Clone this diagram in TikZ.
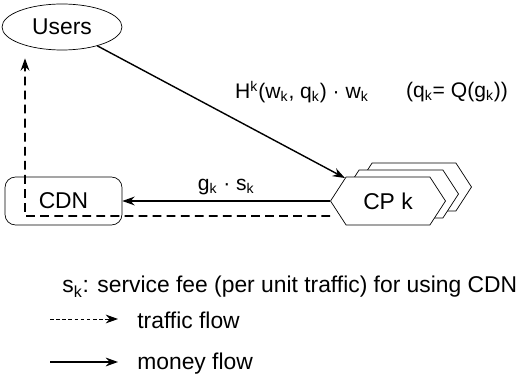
\documentclass[tikz,border=0pt]{standalone}
\usepackage{fontspec}
\setmainfont{Liberation Sans}
\usetikzlibrary{shapes.geometric, shapes.symbols, arrows.meta, positioning}

\tikzset{
  big/.style={font=\fontsize{13}{15}\selectfont},
  lbl/.style={font=\fontsize{12}{14}\selectfont},
  cpbox/.style={draw, fill=white, shape=signal, signal to=west and east,
    signal pointer angle=114, minimum width=2.3cm, minimum height=0.96cm,
    inner sep=0pt, big},
  money/.style={-{Stealth[length=7pt,width=5pt]}, line width=0.8pt},
  traffic/.style={-{Stealth[length=7pt,width=5pt]}, line width=1pt, dash pattern=on 5pt off 3pt},
  thinflow/.style={-{Stealth[length=7pt,width=5pt]}, line width=0.5pt, dash pattern=on 2pt off 1.5pt}
}

\begin{document}
\begin{tikzpicture}[x=0.02cm, y=-0.02cm]
                \useasboundingbox (0,0) rectangle (524,378);
                % actors
                \node[draw, ellipse, minimum width=2.4cm, minimum height=0.92cm, inner sep=0pt, big] (users) at (62,27) {Users};
                \node[draw, rectangle, rounded corners=6pt, minimum width=2.34cm, minimum height=0.96cm, big] (cdn) at (63.5,201) {CDN};
                
                % stack of content providers
                \node[cpbox] (cpc) at (414,187) {};
                \node[cpbox] (cpb) at (401,194) {};
                \node[cpbox] (cpk) at (388,201) {CP k};
                
                \draw[money] (users) -- (cpk);
                \draw[money] (cpk.west) -- node[above, lbl] {g\textsubscript{k} · s\textsubscript{k}} (cdn.east);
                
                \coordinate (turn) at (25,216);
                \draw[traffic] ([yshift=-0.3cm]cpk.west) -- (turn) -- ([yshift=-0.16cm]turn |- users.south);
                
                \node[lbl] (pay) at (302,92) {H\textsuperscript{k}(w\textsubscript{k}, q\textsubscript{k}) · w\textsubscript{k}};
                \node[lbl] (qdef) at (457,92) {(q\textsubscript{k}= Q(g\textsubscript{k}))};
                
                % legend
                \node[big, anchor=west, inner sep=0pt] (fee) at (62,287) {s\textsubscript{k}: service fee (per unit traffic) for using CDN};
                \coordinate (ta) at (50,319);
                \coordinate (tb) at (118,319);
                \draw[thinflow] (ta) -- (tb);
                \node[big, anchor=west, inner sep=0pt] (tflow) at (137,320) {traffic flow};
                \coordinate (ma) at (50,362);
                \coordinate (mb) at (118,362);
                \draw[money] (ma) -- (mb);
                \node[big, anchor=west, inner sep=0pt] (mflow) at (137,364) {money flow};
            \end{tikzpicture}
\end{document}
